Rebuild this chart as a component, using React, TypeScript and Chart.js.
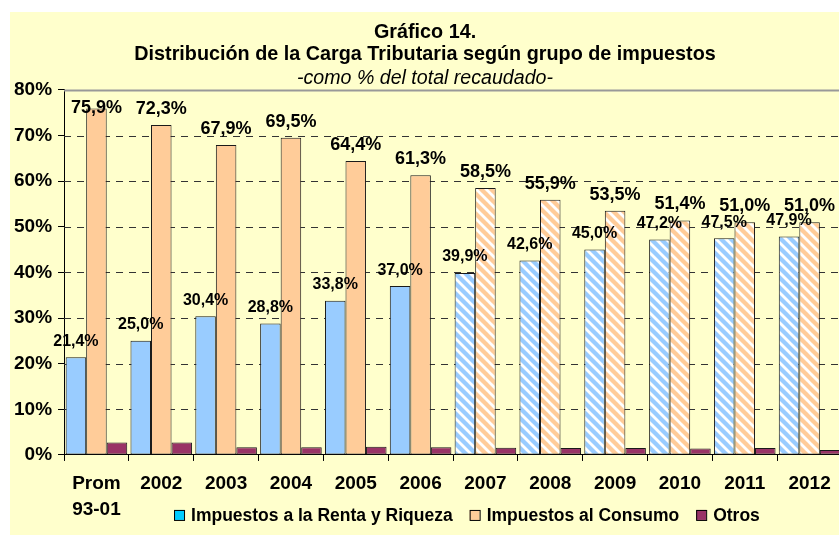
import { useEffect, useRef } from 'react';
import { Chart, registerables } from 'chart.js';

Chart.register(...registerables);

const categories: (string | string[])[] = [
  ['Prom', '93-01'], '2002', '2003', '2004', '2005', '2006',
  '2007', '2008', '2009', '2010', '2011', '2012',
];
const rentaRiqueza = [21.4, 25.0, 30.4, 28.8, 33.8, 37.0, 39.9, 42.6, 45.0, 47.2, 47.5, 47.9];
const consumo = [75.9, 72.3, 67.9, 69.5, 64.4, 61.3, 58.5, 55.9, 53.5, 51.4, 51.0, 51.0];
const otros = [2.7, 2.7, 1.7, 1.7, 1.8, 1.7, 1.6, 1.5, 1.5, 1.4, 1.5, 1.1];
const seriesNames = ['Impuestos a la Renta y Riqueza', 'Impuestos al Consumo', 'Otros'];
const hatchedFrom = '2007';
const titleLines = ['Gráfico 14.', 'Distribución de la Carga Tributaria según grupo de impuestos'];
const subtitleText = '-como % del total recaudado-';

const FONT = "'Liberation Sans', Arial, sans-serif";
const BLUE = '#99CCFF';
const ORANGE = '#FFCC99';
const PURPLE = '#993366';
const LEGEND_COLORS = ['#00CCFF', ORANGE, PURPLE];

function makeHatch(color: string): CanvasPattern | string {
  const s = 10;
  const c = document.createElement('canvas');
  c.width = s;
  c.height = s;
  const g = c.getContext('2d');
  if (!g) return color;
  g.fillStyle = '#ffffff';
  g.fillRect(0, 0, s, s);
  g.strokeStyle = color;
  g.lineWidth = 4.3;
  for (const a of [-s, 0, s]) {
    g.beginPath();
    g.moveTo(a - s, -s);
    g.lineTo(a + 2 * s, 2 * s);
    g.stroke();
  }
  const p = g.createPattern(c, 'repeat');
  return p || color;
}

const fmt = (v: number) => v.toFixed(1).replace('.', ',') + '%';

export default function App() {
  const ref = useRef<HTMLCanvasElement | null>(null);

  useEffect(() => {
    if (!ref.current) return;
    const blueHatch = makeHatch(BLUE);
    const orangeHatch = makeHatch(ORANGE);
    const hatchIdx = categories.findIndex((c) => c === hatchedFrom);

    const gridPlugin = {
      id: 'excelGrid',
      beforeDatasetsDraw(chart: any) {
        const { ctx, chartArea } = chart;
        const y = chart.scales.y;
        ctx.save();
        for (let v = 10; v <= 80; v += 10) {
          const py = Math.round(y.getPixelForValue(v)) + 0.5;
          ctx.beginPath();
          if (v === 80) {
            ctx.setLineDash([]);
            ctx.strokeStyle = '#999999';
            ctx.lineWidth = 2;
          } else {
            ctx.setLineDash([7, 6]);
            ctx.strokeStyle = '#333333';
            ctx.lineWidth = 1;
          }
          ctx.moveTo(chartArea.left, py);
          ctx.lineTo(chartArea.right + 20, py);
          ctx.stroke();
        }
        ctx.restore();
      },
    };

    const labelPlugin = {
      id: 'valueLabels',
      afterDatasetsDraw(chart: any) {
        const { ctx, chartArea } = chart;
        ctx.save();
        ctx.fillStyle = '#000';
        ctx.textAlign = 'center';
        ctx.textBaseline = 'middle';
        [0, 1].forEach((di) => {
          const meta = chart.getDatasetMeta(di);
          const size = di === 0 ? 16 : 18;
          ctx.font = `bold ${size}px ${FONT}`;
          meta.data.forEach((el: any, i: number) => {
            const v = chart.data.datasets[di].data[i] as number;
            const ty = Math.max(el.y - 16, chartArea.top + 18);
            ctx.fillText(fmt(v), el.x, ty);
          });
        });
        ctx.restore();
      },
    };

    const legendPlugin = {
      id: 'excelLegend',
      afterDraw(chart: any) {
        const { ctx, chartArea } = chart;
        ctx.save();
        ctx.font = `bold 17.5px ${FONT}`;
        ctx.textBaseline = 'middle';
        ctx.textAlign = 'left';
        let x = chartArea.left + 110;
        const cy = chartArea.bottom + 60;
        chart.data.datasets.forEach((ds: any, i: number) => {
          ctx.fillStyle = LEGEND_COLORS[i];
          ctx.fillRect(x, cy - 5, 10, 10);
          ctx.strokeStyle = '#000';
          ctx.lineWidth = 1;
          ctx.strokeRect(x + 0.5, cy - 4.5, 10, 10);
          ctx.fillStyle = '#000';
          const tx = x + 17;
          ctx.fillText(ds.label, tx, cy + 1);
          x = tx + ctx.measureText(ds.label).width + 17;
        });
        ctx.restore();
      },
    };

    const chart = new Chart(ref.current, {
      type: 'bar',
      data: {
        labels: categories as any,
        datasets: [
          {
            label: seriesNames[0],
            data: rentaRiqueza,
            backgroundColor: (c: any) => (c.dataIndex >= hatchIdx ? blueHatch : BLUE),
            borderColor: '#1a1a1a',
            borderWidth: 1,
            borderSkipped: false,
            categoryPercentage: 0.95,
            barPercentage: 1.0,
          },
          {
            label: seriesNames[1],
            data: consumo,
            backgroundColor: (c: any) => (c.dataIndex >= hatchIdx ? orangeHatch : ORANGE),
            borderColor: '#1a1a1a',
            borderWidth: 1,
            borderSkipped: false,
            categoryPercentage: 0.95,
            barPercentage: 1.0,
          },
          {
            label: seriesNames[2],
            data: otros,
            backgroundColor: PURPLE,
            borderColor: '#1a1a1a',
            borderWidth: 1,
            borderSkipped: false,
            categoryPercentage: 0.95,
            barPercentage: 1.0,
          },
        ],
      },
      options: {
        responsive: false,
        animation: false,
        layout: { padding: { left: 4, right: 18, top: 0, bottom: 2 } },
        plugins: {
          legend: { display: false },
          tooltip: { enabled: false },
          title: {
            display: true,
            text: titleLines,
            color: '#000',
            font: { family: FONT, size: 19.8, weight: 'bold', lineHeight: 1.11 },
            padding: { top: 10, bottom: 2 },
          },
          subtitle: {
            display: true,
            text: subtitleText,
            color: '#000',
            font: { family: FONT, size: 19.6, style: 'italic', weight: 'normal', lineHeight: 1.12 },
            padding: { top: 0, bottom: 0 },
          },
        },
        scales: {
          x: {
            grid: {
              display: true,
              drawOnChartArea: false,
              offset: true,
              tickLength: 6,
              color: '#000',
            },
            border: { display: true, color: '#000', width: 1 },
            ticks: {
              color: '#000',
              font: { family: FONT, size: 19, weight: 'bold', lineHeight: 1.37 },
              padding: 10,
              maxRotation: 0,
              autoSkip: false,
            },
          },
          y: {
            min: 0,
            max: 80,
            grid: {
              display: true,
              drawOnChartArea: false,
              tickLength: 6,
              color: '#000',
            },
            border: { display: true, color: '#000', width: 1 },
            ticks: {
              stepSize: 10,
              color: '#000',
              padding: 6,
              font: { family: FONT, size: 19, weight: 'bold' },
              callback: (v: any) => v + '%',
            },
          },
        },
      },
      plugins: [gridPlugin, labelPlugin, legendPlugin],
    });
    return () => chart.destroy();
  }, []);

  return (
    <div
      style={{
        position: 'fixed',
        left: 0,
        top: 0,
        width: 839,
        height: 535,
        overflow: 'hidden',
        background: '#ffffff',
      }}
    >
      <div
        style={{
          position: 'absolute',
          left: 10,
          top: 12,
          width: 860,
          height: 523,
          background: '#FFFFCC',
        }}
      />
      <canvas
        ref={ref}
        width={856}
        height={523}
        style={{ position: 'absolute', left: 4, top: 12, display: 'block', width: 856, height: 523 }}
      />
    </div>
  );
}
